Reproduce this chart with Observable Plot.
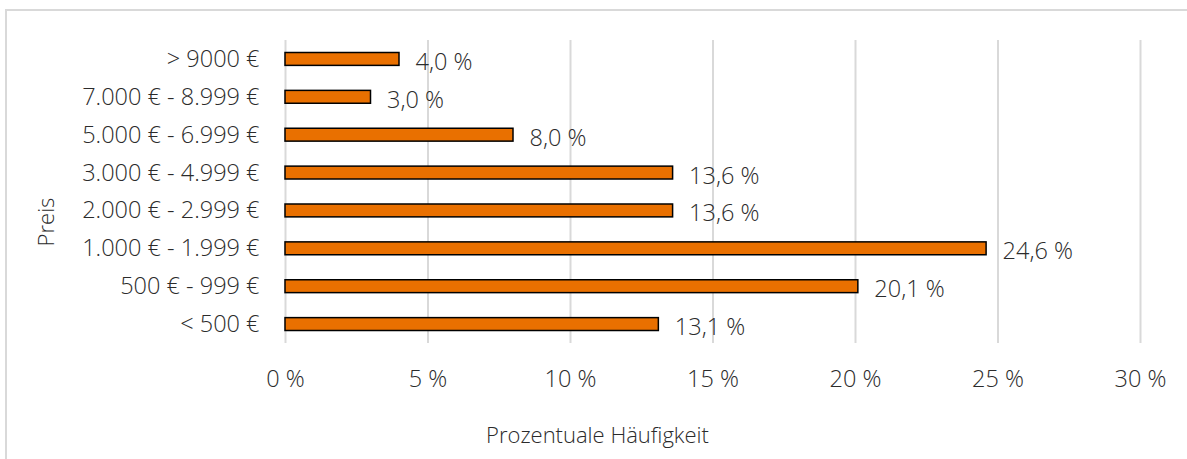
<!DOCTYPE html>
<html>
<head>
<meta charset="utf-8">
<script src="https://cdn.jsdelivr.net/npm/d3@7"></script>
<script src="https://cdn.jsdelivr.net/npm/@observablehq/plot@0.6"></script>
<style>
  html, body { margin: 0; padding: 0; background: #fff; }
  #wrap { position: relative; width: 1187px; height: 459px; overflow: hidden; }
  #frame { position: absolute; left: 5px; top: 9px; width: 1200px; height: 500px; border: 2px solid #d9d9d9; box-sizing: border-box; }
  #chart { position: absolute; left: 0; top: 0; }
</style>
</head>
<body>
<div id="wrap"><div id="frame"></div><div id="chart"></div></div>
<script>
const categories = ["> 9000 €", "7.000 € - 8.999 €", "5.000 € - 6.999 €", "3.000 € - 4.999 €", "2.000 € - 2.999 €", "1.000 € - 1.999 €", "500 € - 999 €", "< 500 €"];
const values = [4.0, 3.0, 8.0, 13.6, 13.6, 24.6, 20.1, 13.1];
const xTicks = [0, 5, 10, 15, 20, 25, 30];
const xTitle = "Prozentuale Häufigkeit";
const yTitle = "Preis";

const data = categories.map((c, i) => ({cat: c, v: values[i], label: values[i].toFixed(1).replace(".", ",") + " %"}));
const font = "'Open Sans', sans-serif";
const textColor = "#2b2b2b";
const fs = 23.5;
const fsTitle = 22;

const chart = Plot.plot({
  width: 1187,
  height: 459,
  marginLeft: 285,
  marginRight: 47,
  marginTop: 40,
  marginBottom: 116,
  style: {fontFamily: font, fontSize: fs + "px", fontWeight: 300, color: textColor, background: "transparent"},
  x: {domain: [0, 30], ticks: xTicks, tickFormat: d => d + " %", tickSize: 0, tickPadding: 27, label: null},
  y: {domain: categories, padding: 0, round: false, tickSize: 0, tickPadding: 26, label: null},
  marks: [
    Plot.ruleX(xTicks, {stroke: "#d9d9d9", strokeWidth: 2}),
    Plot.barX(data, {x: "v", y: "cat", fill: "#E97000", stroke: "#000", strokeWidth: 1.5, insetTop: 12.5, insetBottom: 12.5}),
    Plot.text(data, {x: "v", y: "cat", text: "label", textAnchor: "start", dx: 16, dy: 3, fill: textColor, fontSize: fs}),
    Plot.text([xTitle], {frameAnchor: "bottom", textAnchor: "middle", dx: -115.5, dy: 99, fill: textColor, fontSize: fsTitle}),
    Plot.text([yTitle], {frameAnchor: "left", textAnchor: "middle", dx: -239, dy: 30, rotate: -90, fill: textColor, fontSize: fsTitle})
  ]
});
document.getElementById("chart").appendChild(chart);
</script>
</body>
</html>
